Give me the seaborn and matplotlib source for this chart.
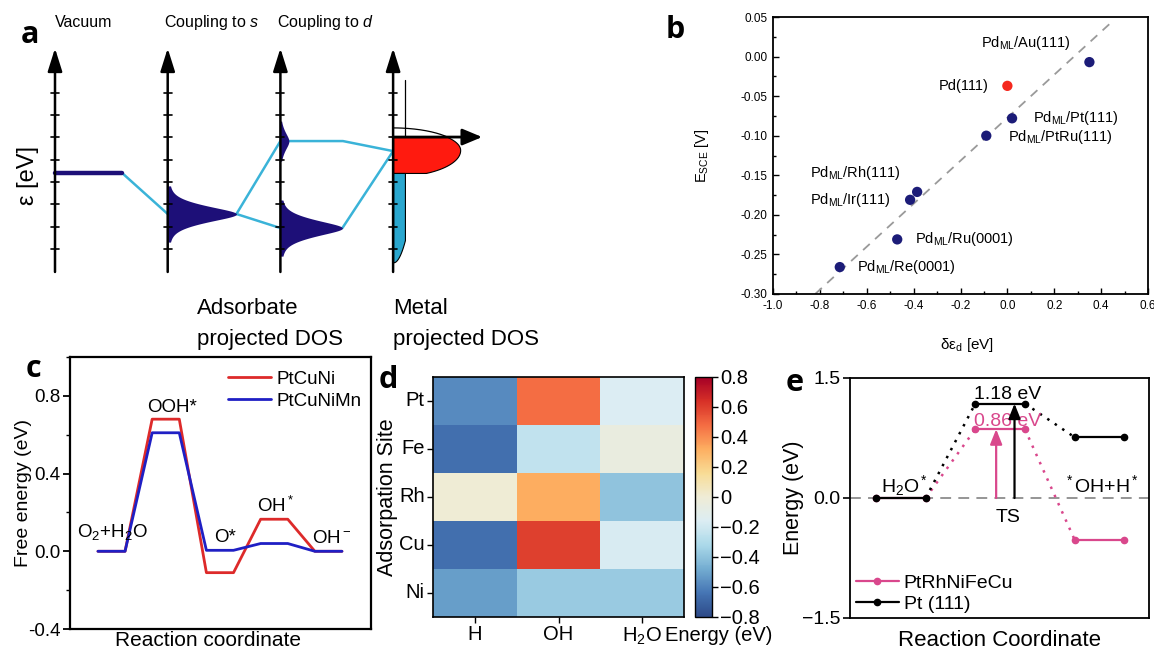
import numpy as np
import pandas as pd
import matplotlib
matplotlib.use('Agg')
import matplotlib.pyplot as plt
import seaborn as sns
from matplotlib.lines import Line2D
from matplotlib.ticker import MultipleLocator
from matplotlib.colors import LinearSegmentedColormap

# ---------------- data ----------------
# panel a: schematic energy levels (tick units on the energy axis)
a_column_titles = ['Vacuum', 'Coupling to $\\mathit{s}$', 'Coupling to $\\mathit{d}$']
a_ticks = [0, 1, 2, 3, 4, 5, 6, 7]
a_vacuum_level = 3.41
a_s_level = 1.57
a_d_bonding = 0.94
a_d_antibonding = 4.84
a_metal_coupling = 4.39
a_fermi = 5.02
a_dband_center = 4.44
a_sp_bottom = -0.6
a_sp_top = 7.58

# panel b
b_surfaces = ['Pd$_{ML}$/Au(111)', 'Pd(111)', 'Pd$_{ML}$/Pt(111)', 'Pd$_{ML}$/PtRu(111)',
              'Pd$_{ML}$/Rh(111)', 'Pd$_{ML}$/Ir(111)', 'Pd$_{ML}$/Ru(0001)', 'Pd$_{ML}$/Re(0001)']
b_shift = [0.35, 0.0, 0.02, -0.09, -0.385, -0.415, -0.47, -0.715]
b_potential = [-0.007, -0.037, -0.078, -0.100, -0.171, -0.181, -0.231, -0.266]
b_group = ['ML', 'bulk', 'ML', 'ML', 'ML', 'ML', 'ML', 'ML']
b_fit_x = [-0.82, 0.45]
b_fit_y = [-0.30, 0.045]
b_xticks = [-1.0, -0.8, -0.6, -0.4, -0.2, 0.0, 0.2, 0.4, 0.6]
b_yticks = [0.05, 0.00, -0.05, -0.10, -0.15, -0.20, -0.25, -0.30]

# panel c
c_states = ['O$_2$+H$_2$O', 'OOH*', 'O*', 'OH$^*$', 'OH$^-$']
c_ptcuni = [0.0, 0.68, -0.11, 0.165, 0.0]
c_ptcunimn = [0.0, 0.61, 0.005, 0.04, 0.0]
c_yticks = [0.8, 0.4, 0.0, -0.4]

# panel d
d_sites = ['Pt', 'Fe', 'Rh', 'Cu', 'Ni']
d_adsorbates = ['H', 'OH', 'H$_2$O']
d_H = [-0.58, -0.66, 0.0, -0.66, -0.52]
d_OH = [0.48, -0.25, 0.32, 0.60, -0.37]
d_H2O = [-0.16, -0.05, -0.40, -0.17, -0.37]
d_cbar_ticks = [0.8, 0.6, 0.4, 0.2, 0.0, -0.2, -0.4, -0.6, -0.8]
d_cbar_labels = ['0.8', '0.6', '0.4', '0.2', '0', '\u22120.2', '\u22120.4', '\u22120.6', '\u22120.8']

# panel e
e_states = ['H$_2$O$^*$', 'TS', '$^*$OH+H$^*$']
e_hea = [0.0, 0.86, -0.52]
e_pt = [0.0, 1.18, 0.76]
e_yticks = [1.5, 0.0, -1.5]
e_yticklabels = ['1.5', '0.0', '\u22121.5']

# ---------------- style ----------------
sns.set_theme(style='ticks')
plt.rcParams['font.family'] = ['Liberation Sans', 'DejaVu Sans']
plt.rcParams['mathtext.fontset'] = 'custom'
plt.rcParams['mathtext.rm'] = 'Liberation Sans'
plt.rcParams['mathtext.it'] = 'Liberation Sans:italic'
plt.rcParams['mathtext.bf'] = 'Liberation Sans:bold'
plt.rcParams['mathtext.default'] = 'regular'
for k in ['axes.edgecolor', 'xtick.color', 'ytick.color', 'text.color', 'axes.labelcolor']:
    plt.rcParams[k] = 'black'

W, H = 1154, 651
fig = plt.figure(figsize=(W / 100, H / 100), dpi=100)


def box(x0, y0, x1, y1):
    return [x0 / W, 1 - y1 / H, (x1 - x0) / W, (y1 - y0) / H]


def ftext(x, y, s, **kw):
    fig.text(x / W, 1 - y / H, s, **kw)


LETTER = dict(fontsize=22, fontweight='bold', family=['Open Sans', 'DejaVu Sans'], ha='center', va='center')

# ---------------- panel a ----------------
navy = '#1D0F78'
cyan = '#3AB3D8'
axa = fig.add_axes(box(0, 0, 640, 350))
axa.set_xlim(-55 / 112.7, (640 - 55) / 112.7)
axa.set_ylim((249 - 350) / 22.3, 249 / 22.3)
axa.axis('off')


def peak(E, center, amp, width, half):
    d = (E - center) / width
    f = amp * (0.5 / (1 + d ** 2) + 0.5 * np.exp(-0.5 * (d / 1.1) ** 2))
    return np.where(np.abs(E - center) <= half, f, 0.0)


# cyan correlation lines
axa.plot([0.595, 1.0], [a_vacuum_level, a_s_level], color=cyan, lw=1.8, zorder=2)
axa.plot([1.61, 2.0], [a_s_level, a_d_antibonding], color=cyan, lw=1.8, zorder=2)
axa.plot([1.61, 2.0], [a_s_level, a_d_bonding], color=cyan, lw=1.8, zorder=2)
axa.plot([2.075, 2.555, 3.0], [a_d_antibonding, a_d_antibonding, a_metal_coupling], color=cyan, lw=1.8, zorder=2)
axa.plot([2.55, 3.0], [a_d_bonding, a_metal_coupling], color=cyan, lw=1.8, zorder=2)

# vacuum level
axa.plot([0, 0.595], [a_vacuum_level] * 2, color=navy, lw=3.2, zorder=3)

# adsorbate projected DOS peaks
Eg = np.linspace(a_s_level - 1.26, a_s_level + 1.26, 400)
axa.fill_betweenx(Eg, 1.0, 1.0 + peak(Eg, a_s_level, 0.61, 0.36, 1.26), color=navy, lw=0, zorder=3)
Eg = np.linspace(a_d_bonding - 1.26, a_d_bonding + 1.26, 400)
axa.fill_betweenx(Eg, 2.0, 2.0 + peak(Eg, a_d_bonding, 0.55, 0.36, 1.26), color=navy, lw=0, zorder=3)
Eg = np.linspace(a_d_antibonding - 0.9, a_d_antibonding + 0.9, 400)
axa.fill_betweenx(Eg, 2.0, 2.0 + peak(Eg, a_d_antibonding, 0.075, 0.4, 0.9), color=navy, lw=0, zorder=3)

# metal projected DOS
amp_d, Ru, Rd = 0.595, 0.99, 1.18


def dband(E):
    up = amp_d * np.sqrt(np.clip(1 - ((E - a_dband_center) / Ru) ** 2, 0, 1))
    dn = amp_d * np.sqrt(np.clip(1 - ((a_dband_center - E) / Rd) ** 2, 0, 1))
    return np.where(E >= a_dband_center, up, dn)


def spband(E):
    return 0.105 * np.sqrt(np.clip((E - a_sp_bottom) / 1.0, 0, 1))


Eg = np.linspace(a_vacuum_level, a_fermi, 300)
axa.fill_betweenx(Eg, 3.0, 3.0 + np.maximum(dband(Eg), spband(Eg)), facecolor='#FF1A0F',
                  edgecolor='black', lw=0.8, zorder=3)
Eg = np.linspace(a_sp_bottom, a_vacuum_level, 300)
axa.fill_betweenx(Eg, 3.0, 3.0 + spband(Eg), facecolor='#2AA7CF', edgecolor='black', lw=0.8, zorder=3)
Eg = np.linspace(a_fermi, a_sp_top, 200)
axa.plot(3.0 + spband(Eg), Eg, color='black', lw=0.9, zorder=3)
Eg = np.linspace(a_fermi, a_dband_center + Ru, 200)
axa.plot(3.0 + dband(Eg), Eg, color='black', lw=0.9, zorder=3)

# energy axes
for c in range(4):
    axa.annotate('', xy=(c, 9.0), xytext=(c, -1.03),
                 arrowprops=dict(arrowstyle='-|>,head_length=0.7,head_width=0.22', lw=1.8,
                                 color='black', mutation_scale=20, shrinkA=0, shrinkB=0), zorder=4)
    for t in a_ticks:
        axa.plot([c - 0.035, c + 0.035], [t, t], color='black', lw=1.2, zorder=4)

# Fermi level arrow
axa.annotate('', xy=(3.79, a_fermi), xytext=(3.0, a_fermi),
             arrowprops=dict(arrowstyle='-|>,head_length=0.6,head_width=0.25', lw=2.0,
                             color='black', mutation_scale=20, shrinkA=0, shrinkB=0), zorder=5)

for x, t in zip([0.0, 0.967, 1.97], a_column_titles):
    axa.text(x, 10.17, t, ha='left', va='center', fontsize=11.5)
axa.text(1.26, -2.65, 'Adsorbate', ha='left', va='center', fontsize=16)
axa.text(1.26, -4.08, 'projected DOS', ha='left', va='center', fontsize=16)
axa.text(3.0, -2.65, 'Metal', ha='left', va='center', fontsize=16)
axa.text(3.0, -4.08, 'projected DOS', ha='left', va='center', fontsize=16)
axa.text(-0.24, 3.3, '\u03b5 [eV]', rotation=90, ha='center', va='center', fontsize=17)
ftext(30, 35, 'a', **LETTER)

# ---------------- panel b ----------------
axb = fig.add_axes(box(773, 17, 1148, 294))
axb.plot(b_fit_x, b_fit_y, color='#9a9a9a', lw=1.3, ls=(0, (5, 4)), zorder=1)
df_b = pd.DataFrame({'shift': b_shift, 'potential': b_potential, 'group': b_group})
sns.scatterplot(data=df_b, x='shift', y='potential', hue='group',
                palette={'ML': '#1C1C78', 'bulk': '#F5281E'}, s=55, linewidth=0,
                legend=False, ax=axb, zorder=3)
b_label_pos = [(0.079, 0.017, 'center'), (-0.078, -0.037, 'right'), (0.109, -0.078, 'left'),
               (0.003, -0.102, 'left'), (-0.842, -0.147, 'left'), (-0.842, -0.181, 'left'),
               (-0.394, -0.231, 'left'), (-0.642, -0.266, 'left')]
for name, (lx, ly, ha) in zip(b_surfaces, b_label_pos):
    axb.text(lx, ly, name, ha=ha, va='center', fontsize=10.5)
axb.set_xlim(-1.0, 0.6)
axb.set_ylim(-0.30, 0.05)
axb.set_xticks(b_xticks, labels=['%.1f' % v for v in b_xticks])
axb.set_yticks(b_yticks, labels=['%.2f' % v for v in b_yticks])
axb.xaxis.set_minor_locator(MultipleLocator(0.1))
axb.yaxis.set_minor_locator(MultipleLocator(0.025))
axb.tick_params(which='both', direction='in', top=False, right=False, labelsize=8.5, width=1)
axb.tick_params(which='major', length=4.5, pad=4)
axb.tick_params(which='minor', length=2.5)
for s in axb.spines.values():
    s.set_linewidth(1.3)
axb.set_xlabel('\u03b4\u03b5$_d$ [eV]', fontsize=11, va='center')
axb.xaxis.set_label_coords(0.517, -0.184)
axb.set_ylabel('E$_{SCE}$ [V]', fontsize=10.5, va='center')
axb.yaxis.set_label_coords(-0.189, 0.5)
ftext(675, 30, 'b', **LETTER)

# ---------------- panel c ----------------
axc = fig.add_axes(box(70, 357, 371, 629))
rows = []
for i in range(len(c_states)):
    for k in (0, 1):
        rows.append(dict(x=2 * i + k, energy=c_ptcuni[i], catalyst='PtCuNi'))
for i in range(len(c_states)):
    for k in (0, 1):
        rows.append(dict(x=2 * i + k, energy=c_ptcunimn[i], catalyst='PtCuNiMn'))
df_c = pd.DataFrame(rows)
c_pal = {'PtCuNi': '#DD2A2A', 'PtCuNiMn': '#1F1FC4'}
sns.lineplot(data=df_c, x='x', y='energy', hue='catalyst', palette=c_pal, sort=False,
             estimator=None, lw=2.0, legend=False, ax=axc)
axc.set_xlim(-1.03, 10.07)
axc.set_ylim(-0.4, 1.0)
axc.set_xticks([])
axc.set_yticks(c_yticks, labels=['%.1f' % v for v in c_yticks])
axc.yaxis.set_minor_locator(MultipleLocator(0.2))
axc.tick_params(axis='y', which='major', direction='out', length=5, width=1.3, labelsize=13.5, pad=2)
axc.tick_params(axis='y', which='minor', direction='out', length=3, width=1.0)
for s in axc.spines.values():
    s.set_linewidth(1.6)
c_label_pos = [(0.53, 0.072), (2.73, 0.718), (4.69, 0.046), (6.57, 0.20), (8.63, 0.041)]
for name, (lx, ly) in zip(c_states, c_label_pos):
    axc.text(lx, ly, name, ha='center', va='baseline', fontsize=13.5)
handles = [Line2D([], [], color=c_pal[k], lw=2.0) for k in c_pal]
axc.legend(handles, list(c_pal), loc='upper left', bbox_to_anchor=(0.525, 0.95), frameon=False,
           fontsize=13.5, handlelength=2.3, handletextpad=0.3, labelspacing=0.25,
           borderpad=0, borderaxespad=0)
axc.set_ylabel('Free energy (eV)', fontsize=14, va='center')
axc.yaxis.set_label_coords(-0.156, 0.5)
axc.set_xlabel('Reaction coordinate', fontsize=15, va='center')
axc.xaxis.set_label_coords(0.458, -0.043)
ftext(33, 369, 'c', **LETTER)

# ---------------- panel d ----------------
d_cmap = LinearSegmentedColormap.from_list(
    'rdylbu_soft', ['#2D4A88', '#4575b4', '#74add1', '#abd9e9', '#dcedf3', '#efecd6',
                    '#f8dc95', '#fdae61', '#f46d43', '#d73027', '#a50026'])
axd = fig.add_axes(box(433, 377, 684, 617))
cax = fig.add_axes(box(695, 377, 712, 617))
df_d = pd.DataFrame({'H': d_H, 'OH': d_OH, 'H2O': d_H2O}, index=d_sites)
sns.heatmap(df_d, ax=axd, cbar_ax=cax, cmap=d_cmap, vmin=-0.8, vmax=0.8, linewidths=0)
axd.set_xticklabels(d_adsorbates, rotation=0)
axd.set_yticklabels(d_sites, rotation=0)
for s in axd.spines.values():
    s.set_visible(True)
    s.set_linewidth(1.2)
    s.set_color('black')
axd.tick_params(length=4, width=1, labelsize=14.5, pad=2, left=True, bottom=True)
axd.set_xlabel('')
axd.set_ylabel('Adsorpation Site', fontsize=15.5, va='center')
axd.yaxis.set_label_coords(-0.183, 0.5)
cax.set_yticks(d_cbar_ticks, labels=d_cbar_labels)
cax.tick_params(labelsize=14.5, length=4, width=1, pad=2)
cbar = axd.collections[0].colorbar
cbar.outline.set_edgecolor('black')
cbar.outline.set_linewidth(1.0)
cax.set_xlabel('Energy (eV)', fontsize=14.5, va='center')
cax.xaxis.set_label_coords(1.41, -0.079)
ftext(388, 380, 'd', **LETTER)

# ---------------- panel e ----------------
pink = '#D9478C'
axe = fig.add_axes(box(850, 378, 1149, 618))
axe.axhline(0, color='#8c8c8c', lw=1.3, ls=(0, (6, 4)), zorder=1)
for vals, col in [(e_hea, pink), (e_pt, 'black')]:
    for i in range(len(vals)):
        axe.plot([2 * i, 2 * i + 1], [vals[i]] * 2, color=col, lw=1.6, marker='o', ms=4.5, zorder=3)
    for i in range(len(vals) - 1):
        axe.plot([2 * i + 1, 2 * i + 2], [vals[i], vals[i + 1]], color=col, lw=1.8,
                 ls=(0, (1, 2.6)), zorder=2)
axe.annotate('', xy=(2.42, e_hea[1]), xytext=(2.42, 0),
             arrowprops=dict(arrowstyle='-|>,head_length=0.5,head_width=0.2', lw=1.6, color=pink,
                             mutation_scale=18, shrinkA=0, shrinkB=0), zorder=4)
axe.annotate('', xy=(2.79, e_pt[1]), xytext=(2.79, 0),
             arrowprops=dict(arrowstyle='-|>,head_length=0.5,head_width=0.2', lw=1.6, color='black',
                             mutation_scale=18, shrinkA=0, shrinkB=0), zorder=4)
axe.text(2.65, 1.24, '%.2f eV' % e_pt[1], ha='center', va='baseline', fontsize=14)
axe.text(2.65, 0.90, '%.2f eV' % e_hea[1], ha='center', va='baseline', fontsize=14, color=pink)
e_label_pos = [(0.57, 0.075), (2.65, -0.30), (4.55, 0.07)]
for name, (lx, ly) in zip(e_states, e_label_pos):
    axe.text(lx, ly, name, ha='center', va='baseline', fontsize=14)
axe.set_xlim(-0.525, 5.5)
axe.set_ylim(-1.5, 1.5)
axe.set_xticks([])
axe.set_yticks(e_yticks, labels=e_yticklabels)
axe.tick_params(axis='y', direction='out', length=5, width=1.2, labelsize=14, pad=2)
for s in axe.spines.values():
    s.set_linewidth(1.3)
h_e = [Line2D([], [], color=pink, lw=1.6, marker='o', ms=4.5),
       Line2D([], [], color='black', lw=1.6, marker='o', ms=4.5)]
axe.legend(h_e, ['PtRhNiFeCu', 'Pt (111)'], loc='lower left', bbox_to_anchor=(0.02, 0.02),
           frameon=False, fontsize=14, handlelength=2.2, handletextpad=0.25, labelspacing=0.2,
           borderpad=0, borderaxespad=0, numpoints=1)
axe.set_ylabel('Energy (eV)', fontsize=15.5, va='center')
axe.yaxis.set_label_coords(-0.19, 0.5)
axe.set_xlabel('Reaction Coordinate', fontsize=16, va='center')
axe.xaxis.set_label_coords(0.5, -0.092)
ftext(795, 383, 'e', **LETTER)

fig.savefig('out.png', dpi=100)
